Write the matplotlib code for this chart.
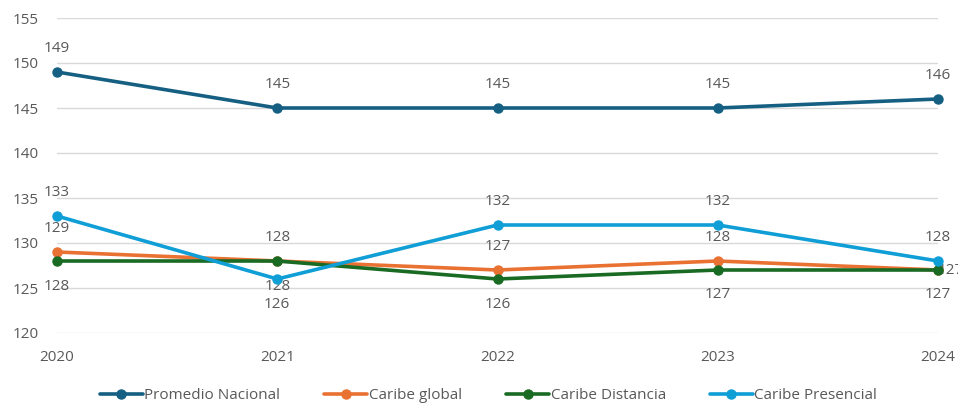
import matplotlib
matplotlib.use("Agg")
import matplotlib.pyplot as plt

plt.rcParams['font.family'] = ['Open Sans', 'DejaVu Sans']

anios = [2020, 2021, 2022, 2023, 2024]
promedio_nacional = [149, 145, 145, 145, 146]
caribe_global = [129, 128, 127, 128, 127]
caribe_distancia = [128, 128, 126, 127, 127]
caribe_presencial = [133, 126, 132, 132, 128]

series = [
    ("Promedio Nacional", promedio_nacional, "#156082"),
    ("Caribe global", caribe_global, "#E97132"),
    ("Caribe Distancia", caribe_distancia, "#196B24"),
    ("Caribe Presencial", caribe_presencial, "#0F9ED5"),
]

# posicion de cada etiqueta: a = arriba, b = abajo, d = derecha
posiciones = {
    "Promedio Nacional": ["a", "a", "a", "a", "a"],
    "Caribe global": ["a", "a", "a", "a", "d"],
    "Caribe Distancia": ["b", "b", "b", "b", "b"],
    "Caribe Presencial": ["a", "b", "a", "a", "a"],
}

gris = "#595959"
fig = plt.figure(figsize=(9.58, 4.05), dpi=100)
ax = fig.add_axes([57/958, 72/405, (938-57)/958, (333-18)/405])

for nombre, valores, color in series:
    ax.plot(anios, valores, color=color, lw=2.6, marker="o", ms=6.5,
            label=nombre, solid_capstyle="round", clip_on=False, zorder=3)
    for x, y, p in zip(anios, valores, posiciones[nombre]):
        if p == "a":
            ax.annotate(str(y), (x, y), xytext=(0, 17), textcoords="offset points",
                        ha="center", va="center", fontsize=11, color=gris)
        elif p == "b":
            ax.annotate(str(y), (x, y), xytext=(0, -18), textcoords="offset points",
                        ha="center", va="center", fontsize=11, color=gris)
        else:
            ax.annotate(str(y), (x, y), xytext=(0, 0), textcoords="offset points",
                        ha="left", va="center", fontsize=11, color=gris)

ax.set_xlim(2020, 2024)
ax.set_ylim(120, 155)
ax.set_xticks(anios)
ax.set_xticklabels([str(a) for a in anios])
ax.set_yticks(range(120, 156, 5))
ax.grid(axis="y", color="#d9d9d9", lw=1)
ax.set_axisbelow(True)
for s in ax.spines.values():
    s.set_visible(False)
ax.tick_params(length=0, labelsize=11, colors=gris)
ax.tick_params(axis="y", pad=13)
ax.tick_params(axis="x", pad=12)

fig.legend(loc="lower center", bbox_to_anchor=(0.51, -0.03), ncol=4, frameon=False,
           fontsize=11, labelcolor=gris, handlelength=2.8, handletextpad=0.1,
           columnspacing=2.9)

fig.savefig("out.png", dpi=100)
